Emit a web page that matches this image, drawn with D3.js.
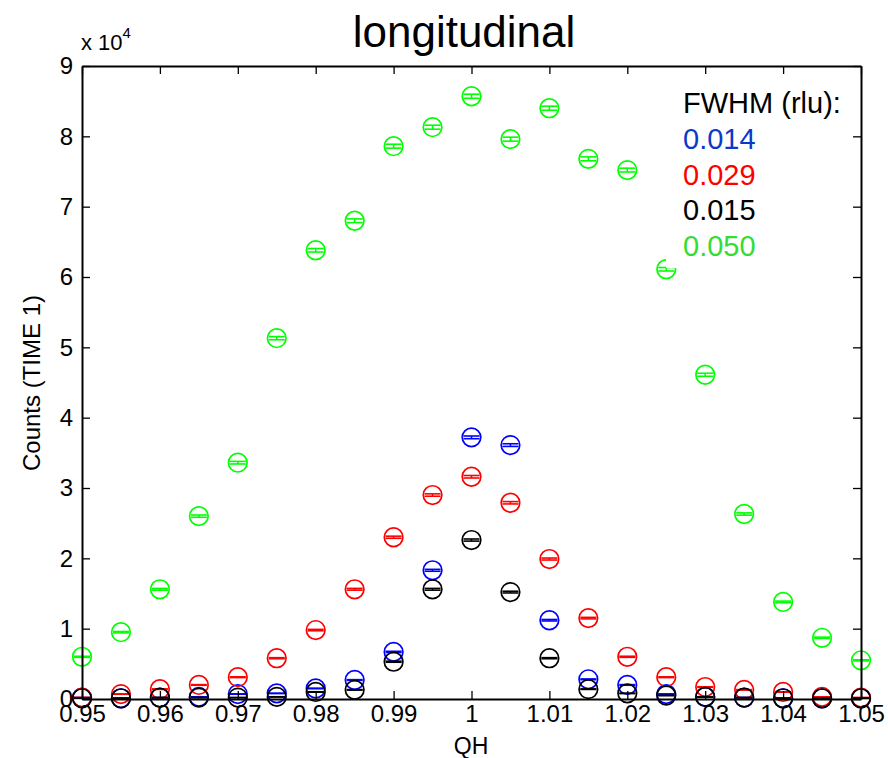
<!DOCTYPE html>
<html>
<head>
<meta charset="utf-8">
<title>longitudinal</title>
<script src="https://cdn.jsdelivr.net/npm/d3@7"></script>
<style>
	body { margin: 0; background: #fff; }
	text { font-family: "Liberation Sans", Arial, sans-serif; }
</style>
</head>
<body>
<svg id="chart" width="888" height="758"></svg>
<script>
// QH positions (rlu)
var qh = [0.95, 0.955, 0.96, 0.965, 0.97, 0.975, 0.98, 0.985, 0.99, 0.995, 1.0,
	1.005, 1.01, 1.015, 1.02, 1.025, 1.03, 1.035, 1.04, 1.045, 1.05];

// counts, units of 1e4
var blueCounts  = [0.02, 0.01, 0.02, 0.03, 0.07, 0.08, 0.15, 0.27, 0.67, 1.83, 3.72,
	3.61, 1.12, 0.28, 0.20, 0.07, 0.03, 0.02, 0.01, 0.01, 0.01];
var redCounts   = [0.02, 0.07, 0.14, 0.20, 0.31, 0.58, 0.98, 1.56, 2.30, 2.90, 3.16,
	2.79, 1.99, 1.15, 0.60, 0.31, 0.17, 0.13, 0.10, 0.03, 0.02];
var blackCounts = [0.01, 0.01, 0.02, 0.02, 0.02, 0.03, 0.10, 0.13, 0.53, 1.56, 2.26,
	1.52, 0.58, 0.14, 0.08, 0.05, 0.03, 0.02, 0.01, 0.01, 0.01];
var greenCounts = [0.60, 0.95, 1.56, 2.60, 3.36, 5.13, 6.38, 6.80, 7.86, 8.13, 8.57,
	7.96, 8.40, 7.68, 7.52, 6.11, 4.61, 2.63, 1.38, 0.87, 0.55];

var xTicks = [0.95, 0.96, 0.97, 0.98, 0.99, 1, 1.01, 1.02, 1.03, 1.04, 1.05];
var yTicks = [0, 1, 2, 3, 4, 5, 6, 7, 8, 9];
var fwhm = ["0.014", "0.029", "0.015", "0.050"];

var series = [
	{name: "green", color: "#00ff00", text: "#33dd33", values: greenCounts, fwhm: fwhm[3]},
	{name: "blue", color: "#0000ff", text: "#0a3acb", values: blueCounts, fwhm: fwhm[0]},
	{name: "red", color: "#ff0000", text: "#ff0000", values: redCounts, fwhm: fwhm[1]},
	{name: "black", color: "#000000", text: "#000000", values: blackCounts, fwhm: fwhm[2]}
];
var legendOrder = ["blue", "red", "black", "green"];

var pLeft = 82, pRight = 861, pTop = 66, pBottom = 699;
var svg = d3.select("#chart");

var x = d3.scaleLinear().domain([0.95, 1.05]).range([pLeft, pRight]);
var y = d3.scaleLinear().domain([0, 9]).range([pBottom, pTop]);

// markers with poisson error caps
var plot = svg.append("g");
series.forEach(function(s) {
	var g = plot.append("g");
	s.values.forEach(function(v, i) {
		var cx = x(qh[i]), cy = y(v);
		var err = Math.sqrt(v * 1e4) / 1e4;
		var eHi = y(v + err), eLo = y(v - err);
		g.append("line").attr("x1", cx).attr("x2", cx).attr("y1", eHi).attr("y2", eLo)
			.attr("stroke", s.color).attr("stroke-width", 1.5);
		[eHi, eLo].forEach(function(yy) {
			g.append("line").attr("x1", cx - 8).attr("x2", cx + 8).attr("y1", yy).attr("y2", yy)
				.attr("stroke", s.color).attr("stroke-width", 1.6);
		});
		g.append("circle").attr("cx", cx).attr("cy", cy).attr("r", 9.3)
			.attr("fill", "none").attr("stroke", s.color).attr("stroke-width", 1.7);
	});
});

// legend box (white, hides what is under it)
svg.append("rect").attr("x", 666).attr("y", 82).attr("width", 190).attr("height", 186).attr("fill", "#fff");
var leg = svg.append("g").attr("font-size", 29);
leg.append("text").attr("x", 683).attr("y", 113).text("FWHM (rlu):");
legendOrder.forEach(function(n, i) {
	var s = series.find(function(d) { return d.name == n; });
	leg.append("text").attr("x", 683).attr("y", 149 + i * 35.5).attr("fill", s.text).text(s.fwhm);
});

// axes box
var axisG = svg.append("g");
axisG.append("g").attr("transform", "translate(0," + pBottom + ")")
	.call(d3.axisBottom(x).tickValues(xTicks).tickSizeInner(-8).tickSizeOuter(0).tickPadding(6)
		.tickFormat(function(d) { return d3.format("")(+d.toFixed(2)); }));
axisG.append("g").attr("transform", "translate(0," + pTop + ")")
	.call(d3.axisTop(x).tickValues(xTicks).tickSizeInner(-8).tickSizeOuter(0).tickFormat(""));
axisG.append("g").attr("transform", "translate(" + pLeft + ",0)")
	.call(d3.axisLeft(y).tickValues(yTicks).tickSizeInner(-8).tickSizeOuter(0).tickPadding(9));
axisG.append("g").attr("transform", "translate(" + pRight + ",0)")
	.call(d3.axisRight(y).tickValues(yTicks).tickSizeInner(-8).tickSizeOuter(0).tickFormat(""));
axisG.selectAll(".domain").attr("stroke", "#000").attr("stroke-width", 2);
axisG.selectAll(".tick line").attr("stroke", "#000").attr("stroke-width", 1.3);
axisG.selectAll(".tick text").attr("font-size", 24).attr("fill", "#000")
	.style("font-family", "'Liberation Sans', Arial, sans-serif");

// exponent label
var ex = svg.append("text").attr("x", 81).attr("y", 50).attr("font-size", 22);
ex.append("tspan").text("x 10");
ex.append("tspan").attr("font-size", 15).attr("dy", -12).text("4");

// title and axis labels
svg.append("text").attr("x", 464).attr("y", 47).attr("text-anchor", "middle").attr("font-size", 44).text("longitudinal");
svg.append("text").attr("x", 471).attr("y", 754).attr("text-anchor", "middle").attr("font-size", 23).text("QH");
svg.append("text").attr("transform", "translate(40,383) rotate(-90)").attr("text-anchor", "middle")
	.attr("font-size", 24).text("Counts (TIME 1)");
</script>
</body>
</html>
